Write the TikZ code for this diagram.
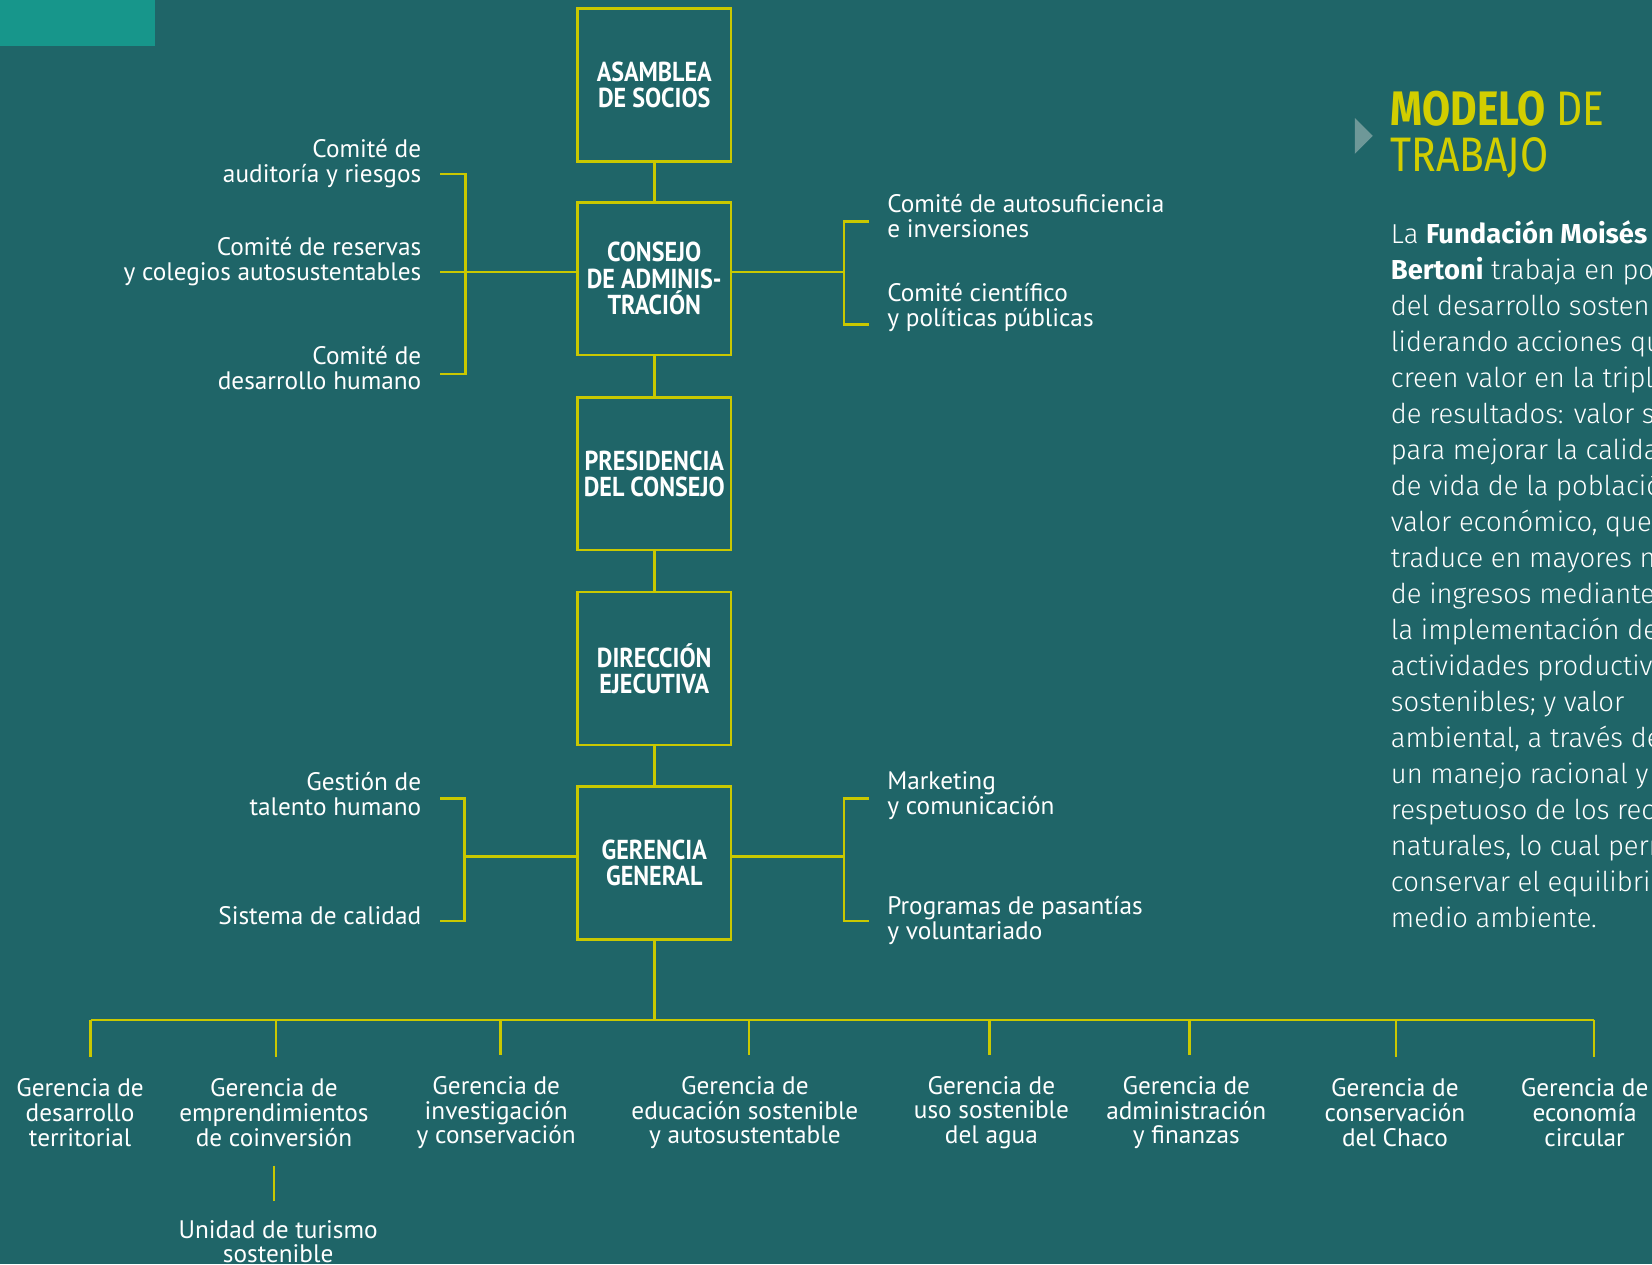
\documentclass[tikz,border=0pt]{standalone}
\usepackage{fontspec}
\setmainfont{PT Sans}
\newfontfamily\labelfont{PT Sans}
\newfontfamily\boxfont[FakeStretch=0.88]{PT Sans}
\newfontfamily\titlefont[FakeStretch=0.84]{Fira Sans}
\IfFontExistsTF{Fira Sans Light}
  {\newfontfamily\parafont{Fira Sans Light}[BoldFont={Fira Sans Bold}]}
  {\newfontfamily\parafont{Fira Sans}}

\definecolor{bgteal}{HTML}{1F6568}
\definecolor{tabteal}{HTML}{17968B}
\definecolor{lineyellow}{HTML}{C9C800}
\definecolor{titleyellow}{HTML}{D2CE00}
\definecolor{arrowgray}{HTML}{6E9898}

\tikzset{
	box/.style = {draw=lineyellow, line width=2.5pt, minimum width=145.5pt,
		minimum height=145pt, align=center, text=white, inner sep=0pt,
		font=\boxfont\bfseries\fontsize{26}{25}\selectfont},
	link/.style = {draw=lineyellow, line width=2.5pt},
	lbl/.style = {align=center, text=white, inner sep=0pt,
		font=\labelfont\fontsize{24}{23.5}\selectfont},
	lblL/.style = {lbl, align=right, anchor=east, inner xsep=18pt},
	lblR/.style = {lbl, align=left, anchor=west, inner xsep=17pt},
}

\begin{document}
\begin{tikzpicture}[x=1pt, y={(0pt,-1pt)}]
	\fill[bgteal] (0,0) rectangle (1568,1200);
	\useasboundingbox (0,0) rectangle (1568,1200);
	\clip (0,0) rectangle (1568,1200);
	\fill[tabteal] (0,0) rectangle (147,44);

	% main chain
	\node[box] (asamblea) at (621,80.5) {ASAMBLEA\\DE SOCIOS};
	\node[box] (consejo) at (621,264.5) {CONSEJO\\DE ADMINIS-\\TRACIÓN};
	\node[box] (presidencia) at (621,449.5) {PRESIDENCIA\\DEL CONSEJO};
	\node[box] (direccion) at (621,634.5) {DIRECCIÓN\\EJECUTIVA};
	\node[box] (gerencia) at (621,819) {GERENCIA\\GENERAL};
	\foreach \a/\b in {asamblea/consejo, consejo/presidencia, presidencia/direccion, direccion/gerencia} {
		\draw[link] (\a) -- (\b);
	}

	% comites del consejo
	\node[lblL] (auditoria) at (418,155) {Comité de\\auditoría y riesgos};
	\node[lblL] (reservas) at (418,248.5) {Comité de reservas\\y colegios autosustentables};
	\node[lblL] (humano) at (418,349) {Comité de\\desarrollo humano};
	\node[lblR] (autosuf) at (825,205) {Comité de autosuficiencia\\e inversiones};
	\node[lblR] (cientifico) at (825,292) {Comité científico\\y políticas públicas};
	\coordinate (cl1) at (442,165);
	\coordinate (cl2) at (442,258);
	\coordinate (cl3) at (442,355);
	\coordinate (cr0) at (801,258);
	\coordinate (cr1) at (801,210);
	\coordinate (cr2) at (801,308);
	\draw[link] (auditoria.east |- cl1) -- (cl1) -- (cl3) -- (humano.east |- cl3);
	\draw[link] (reservas.east |- cl2) -- (consejo.west |- cl2);
	\draw[link] (consejo.east |- cr0) -- (cr0);
	\draw[link] (autosuf.west |- cr1) -- (cr1) -- (cr2) -- (cientifico.west |- cr2);

	% areas de la gerencia general
	\node[lblL] (talento) at (418,753.5) {Gestión de\\talento humano};
	\node[lblL] (calidad) at (418,869) {Sistema de calidad};
	\node[lblR] (marketing) at (825,755) {Marketing\\y comunicación};
	\node[lblR] (pasantias) at (825,874) {Programas de pasantías\\y voluntariado};
	\coordinate (gl0) at (441,813);
	\coordinate (gl1) at (441,758);
	\coordinate (gl2) at (441,874);
	\coordinate (gr0) at (801,813);
	\coordinate (gr1) at (801,758);
	\coordinate (gr2) at (801,874);
	\draw[link] (talento.east |- gl1) -- (gl1) -- (gl2) -- (calidad.east |- gl2);
	\draw[link] (gl0) -- (gerencia.west |- gl0);
	\draw[link] (gerencia.east |- gr0) -- (gr0);
	\draw[link] (marketing.west |- gr1) -- (gr1) -- (gr2) -- (pasantias.west |- gr2);

	% gerencias
	\coordinate (gbus) at (621,968);
	\foreach \n/\bx/\lx/\txt in {
		1/86/76/{Gerencia de\\desarrollo\\territorial},
		2/262/260/{Gerencia de\\emprendimientos\\de coinversión},
		3/475/471/{Gerencia de\\investigación\\y conservación},
		4/711/707/{Gerencia de\\educación sostenible\\y autosustentable},
		5/939/941/{Gerencia de\\uso sostenible\\del agua},
		6/1129/1126/{Gerencia de\\administración\\y finanzas},
		7/1325/1324/{Gerencia de\\conservación\\del Chaco},
		8/1513/1504/{Gerencia de\\economía\\circular}} {
		\coordinate (b\n) at (\bx,968);
		\node[lbl] (g\n) at (\lx,1056) {\txt};
		\draw[link, shorten >=20pt] (b\n) -- (b\n |- g\n.north);
	}
	\draw[link] (gerencia) -- (gbus);
	\draw[link] (b1) -- (b8);
	\node[lbl] (turismo) at (264,1178.5) {Unidad de turismo\\sostenible};
	\draw[link, shorten <=18pt, shorten >=18pt] (g2.south) -- (g2.south |- turismo.north);

	% modelo de trabajo
	\fill[arrowgray] (1286,112) -- (1303,129) -- (1286,146) -- cycle;
	\node[anchor=west, align=left, inner sep=0pt, text=titleyellow,
		font=\titlefont\fontsize{46}{44}\selectfont] (titulo) at (1320,127.5)
		{\textbf{MODELO} DE\\TRABAJO};
	\node[anchor=north west, align=left, inner sep=0pt, text=white,
		font=\parafont\fontsize{26}{34.2}\selectfont] (texto) at (1320,209)
		{La \textbf{Fundación Moisés}\\
		\textbf{Bertoni} trabaja en pos\\
		del desarrollo sostenible,\\
		liderando acciones que\\
		creen valor en la triple\\
		de resultados: valor social\\
		para mejorar la calidad\\
		de vida de la población;\\
		valor económico, que se\\
		traduce en mayores niveles\\
		de ingresos mediante\\
		la implementación de\\
		actividades productivas\\
		sostenibles; y valor\\
		ambiental, a través de\\
		un manejo racional y\\
		respetuoso de los recursos\\
		naturales, lo cual permite\\
		conservar el equilibrio del\\
		medio ambiente.};
\end{tikzpicture}
\end{document}
